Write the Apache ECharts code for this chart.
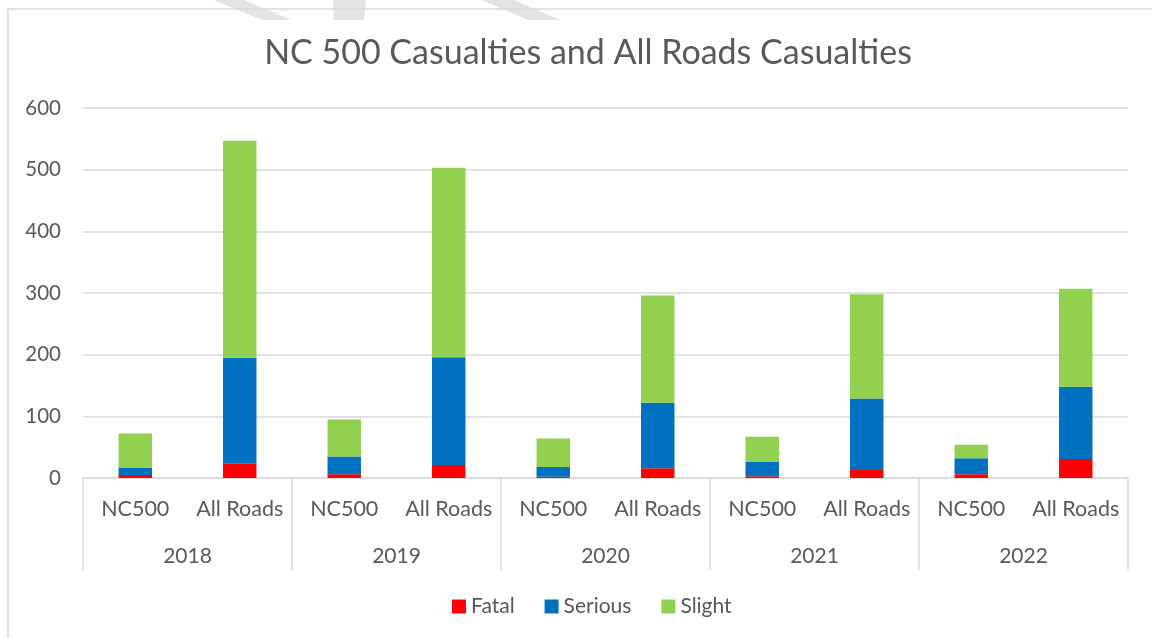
<!DOCTYPE html>
<html>
<head>
<meta charset="utf-8">
<script src="https://cdn.jsdelivr.net/npm/echarts@6/dist/echarts.min.js"></script>
<style>
  html, body { margin: 0; padding: 0; background: #fff; }
  #main { width: 1152px; height: 638px; }
</style>
</head>
<body>
<div id="main"></div>
<script>
// road type within each year, and the years
const roadTypes = ['NC500', 'All Roads'];
const years = ['2018', '2019', '2020', '2021', '2022'];

// values, in order NC500/All Roads per year
const fatal   = [5, 23, 6, 21, 2, 16, 3, 13, 6, 31];
const serious = [12, 172, 29, 175, 16, 106, 23, 116, 26, 117];
const slight  = [55, 352, 60, 307, 46, 174, 41, 169, 22, 159];

const yTicks = { min: 0, max: 600, interval: 100 };

const categories = [];
years.forEach(y => roadTypes.forEach(r => categories.push(r)));

const font = 'Lato, "Open Sans", sans-serif';
const grey = '#595959';
const lineGrey = '#d9d9d9';

const myChart = echarts.init(document.getElementById('main'));

const option = {
    backgroundColor: '#fff',
    animation: false,
    title: {
        text: 'NC 500 Casualties and All Roads Casualties',
        left: 583,
        textAlign: 'center',
        top: 31,
        textStyle: { fontFamily: font, fontSize: 34, fontWeight: 'normal', color: grey }
    },
    legend: {
        data: ['Fatal', 'Serious', 'Slight'],
        bottom: 16,
        left: 447,
        itemWidth: 14,
        itemHeight: 14,
        itemGap: 30,
        icon: 'rect',
        textStyle: { fontFamily: font, fontSize: 21, color: grey }
    },
    grid: { left: 83, right: 24, top: 108, bottom: 160 },
    xAxis: [
        {
            type: 'category',
            data: categories,
            position: 'bottom',
            axisLine: { lineStyle: { color: lineGrey, width: 1.5 } },
            axisTick: { show: false },
            axisLabel: { margin: 20, fontFamily: font, fontSize: 21.5, color: grey, interval: 0 }
        },
        {
            type: 'category',
            data: years,
            position: 'bottom',
            axisLine: { show: false },
            axisTick: { show: true, length: 92, lineStyle: { color: lineGrey, width: 1.5 } },
            axisLabel: { margin: 68, fontFamily: font, fontSize: 21, color: grey }
        }
    ],
    yAxis: {
        type: 'value',
        min: yTicks.min,
        max: yTicks.max,
        interval: yTicks.interval,
        axisLine: { show: false },
        axisTick: { show: false },
        splitLine: { lineStyle: { color: lineGrey, width: 1.5 } },
        axisLabel: { margin: 22, fontFamily: font, fontSize: 20.5, color: grey }
    },
    series: [
        { name: 'Fatal', type: 'bar', stack: 'all', data: fatal, barCategoryGap: '68%', itemStyle: { color: '#ff0000' } },
        { name: 'Serious', type: 'bar', stack: 'all', data: serious, itemStyle: { color: '#0070c0' } },
        { name: 'Slight', type: 'bar', stack: 'all', data: slight, itemStyle: { color: '#92d050' } }
    ],
    graphic: [
        // chart border (left and top edges visible)
        { type: 'polyline', z: -1, shape: { points: [[8, 640], [8, 9], [1152, 9]] }, style: { stroke: lineGrey, lineWidth: 1.5, fill: null } },
        // bits of the page watermark at the top edge
        { type: 'polygon', z: -2, shape: { points: [[214, 0], [244, 0], [292, 20], [262, 20]] }, style: { fill: '#e3e3e3' } },
        { type: 'polygon', z: -2, shape: { points: [[333, 0], [366, 0], [364, 20], [334, 20]] }, style: { fill: '#e3e3e3' } },
        { type: 'polygon', z: -2, shape: { points: [[482, 0], [514, 0], [560, 20], [528, 20]] }, style: { fill: '#e3e3e3' } }
    ]
};

myChart.setOption(option);
</script>
</body>
</html>
